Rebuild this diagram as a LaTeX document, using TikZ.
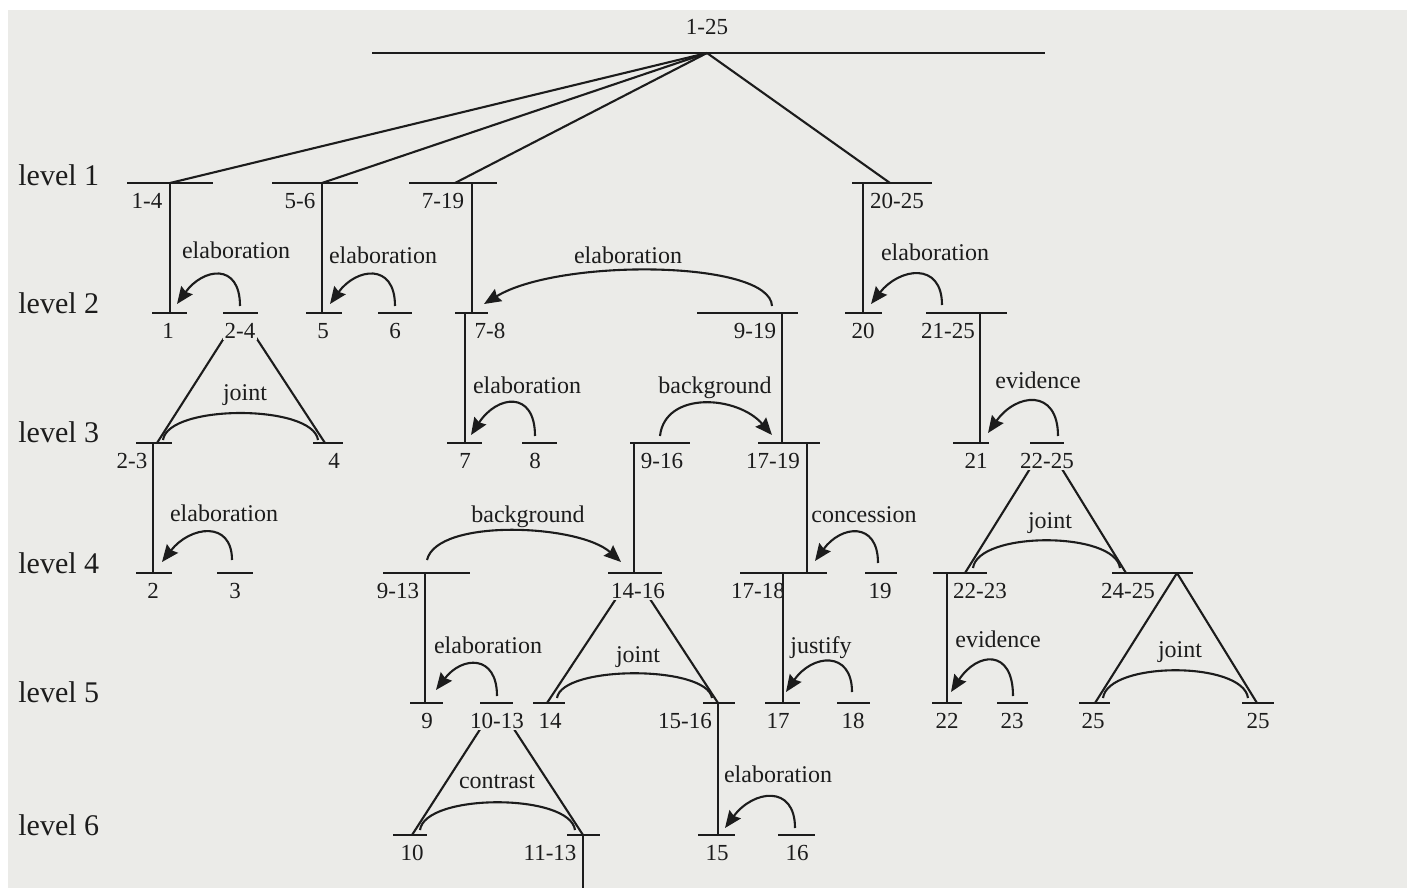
\documentclass[tikz,border=0pt]{standalone}
\usepackage{fontspec}
\setmainfont{Liberation Serif}
\usetikzlibrary{arrows.meta}
\definecolor{paper}{HTML}{EBEBE8}
\definecolor{ink}{HTML}{1C1C1C}

% one text span: name, left x, right x, level y, label x, label
\newcommand\seg[6]{%
  \draw[bar] (#2,#4) coordinate (#1-l) -- (#3,#4) coordinate (#1-r);
  \node[num] (#1) at (#5,#4) {#6};}

\begin{document}
\begin{tikzpicture}[x=0.5pt,y=-0.5pt,line join=round,
  bar/.style={draw=ink,line width=1.05pt},
  nucl/.style={draw=ink,line width=1.05pt},
  multi/.style={draw=ink,line width=1.05pt},
  rel/.style={draw=ink,line width=1.05pt,-{Stealth[length=8.5pt,width=7pt,inset=1pt]}},
  num/.style={font=\fontsize{11.5}{13}\selectfont,text=ink,anchor=base,yshift=-12.5pt,inner sep=1pt},
  apexnum/.style={num,fill=paper,text height=11pt},
  lbl/.style={font=\fontsize{12}{14}\selectfont,text=ink,anchor=base,inner sep=0pt},
  lvl/.style={font=\fontsize{15}{17}\selectfont,text=ink,anchor=base west,inner sep=0pt}]

\fill[white] (0,0) rectangle (1407,888);
\fill[paper] (8,10) rectangle (1407,888);
\useasboundingbox (0,0) rectangle (1407,888);

% levels
\coordinate (L2) at (0,313);
\coordinate (L3) at (0,443);
\coordinate (L4) at (0,573);
\coordinate (L5) at (0,703);
\coordinate (L6) at (0,835);
\coordinate (B) at (0,888);
\node[lvl] (lv1) at (18,185) {level 1};
\node[lvl] (lv2) at (18,313) {level 2};
\node[lvl] (lv3) at (18,442) {level 3};
\node[lvl] (lv4) at (18,573) {level 4};
\node[lvl] (lv5) at (18,702) {level 5};
\node[lvl] (lv6) at (18,835) {level 6};

% attachment points
\coordinate (a1-25) at (707,53);
\coordinate (v1-4) at (170,183);
\coordinate (v5-6) at (322,183);
\coordinate (t7-19) at (455,183);
\coordinate (v7-19) at (472,183);
\coordinate (t20-25) at (890,183);
\coordinate (v20-25) at (863,183);
\coordinate (a2-4) at (240,313);
\coordinate (v7-8) at (465,313);
\coordinate (v9-19) at (782,313);
\coordinate (v21-25) at (980,313);
\coordinate (c2-3) at (157,443);
\coordinate (c4) at (325,443);
\coordinate (v2-3) at (153,443);
\coordinate (v9-16) at (634,443);
\coordinate (v17-19) at (807,443);
\coordinate (a22-25) at (1046,443);
\coordinate (a14-16) at (633,573);
\coordinate (c22-23) at (965,573);
\coordinate (c24-25) at (1126,573);
\coordinate (a24-25) at (1177,573);
\coordinate (v9-13) at (425,573);
\coordinate (v17-18) at (783,573);
\coordinate (v22-23) at (947,573);
\coordinate (c14) at (547,703);
\coordinate (a10-13) at (497,703);
\coordinate (v15-16) at (718,703);
\coordinate (c25a) at (1095,703);
\coordinate (c25b) at (1257,703);
\coordinate (c10) at (412,835);
\coordinate (v11-13) at (583,835);

% nucleus lines
\draw[nucl] (a1-25) -- (v1-4);
\draw[nucl] (a1-25) -- (v5-6);
\draw[nucl] (a1-25) -- (t7-19);
\draw[nucl] (a1-25) -- (t20-25);
\draw[nucl] (a2-4) -- (c2-3);
\draw[nucl] (a2-4) -- (c4);
\draw[nucl] (a22-25) -- (c22-23);
\draw[nucl] (a22-25) -- (c24-25);
\draw[nucl] (a14-16) -- (c14);
\draw[nucl] (a14-16) -- (v15-16);
\draw[nucl] (a24-25) -- (c25a);
\draw[nucl] (a24-25) -- (c25b);
\draw[nucl] (a10-13) -- (c10);
\draw[nucl] (a10-13) -- (v11-13);
\draw[nucl] (v1-4) -- (v1-4 |- L2);
\draw[nucl] (v5-6) -- (v5-6 |- L2);
\draw[nucl] (v7-19) -- (v7-19 |- L2);
\draw[nucl] (v20-25) -- (v20-25 |- L2);
\draw[nucl] (v7-8) -- (v7-8 |- L3);
\draw[nucl] (v9-19) -- (v9-19 |- L3);
\draw[nucl] (v21-25) -- (v21-25 |- L3);
\draw[nucl] (v2-3) -- (v2-3 |- L4);
\draw[nucl] (v9-16) -- (v9-16 |- L4);
\draw[nucl] (v17-19) -- (v17-19 |- L4);
\draw[nucl] (v9-13) -- (v9-13 |- L5);
\draw[nucl] (v17-18) -- (v17-18 |- L5);
\draw[nucl] (v22-23) -- (v22-23 |- L5);
\draw[nucl] (v15-16) -- (v15-16 |- L6);
\draw[nucl] (v11-13) -- (v11-13 |- B);

% spans
\draw[bar] (372,53) -- (1045,53);
\node[num,yshift=21.5pt] (u1-25) at (707,53) {1-25};
\seg{u1-4}{127}{213}{183}{147}{1-4}
\seg{u5-6}{272}{358}{183}{300}{5-6}
\seg{u7-19}{409}{497}{183}{443}{7-19}
\seg{u20-25}{852}{932}{183}{897}{20-25}
\seg{u1}{152}{187}{313}{168}{1}
\node[apexnum] (u2-4) at (240,313) {2-4};
\draw[bar] (223,313) -- (258,313);
\seg{u5}{306}{342}{313}{323}{5}
\seg{u6}{378}{412}{313}{395}{6}
\seg{u7-8}{455}{488}{313}{490}{7-8}
\seg{u9-19}{697}{798}{313}{755}{9-19}
\seg{u20}{845}{882}{313}{863}{20}
\seg{u21-25}{926}{1007}{313}{948}{21-25}
\seg{u2-3}{136}{172}{443}{132}{2-3}
\seg{u4}{313}{343}{443}{334}{4}
\seg{u7}{447}{482}{443}{465}{7}
\seg{u8}{522}{557}{443}{535}{8}
\seg{u9-16}{630}{690}{443}{662}{9-16}
\seg{u17-19}{758}{820}{443}{773}{17-19}
\seg{u21}{953}{989}{443}{976}{21}
\node[apexnum] (u22-25) at (1047,443) {22-25};
\draw[bar] (1030,443) -- (1064,443);
\seg{u2}{136}{172}{573}{153}{2}
\seg{u3}{217}{253}{573}{235}{3}
\seg{u9-13}{383}{470}{573}{398}{9-13}
\node[apexnum] (u14-16) at (638,573) {14-16};
\draw[bar] (608,573) -- (662,573);
\seg{u17-18}{740}{827}{573}{758}{17-18}
\seg{u19}{865}{897}{573}{880}{19}
\seg{u22-23}{933}{987}{573}{980}{22-23}
\seg{u24-25}{1112}{1193}{573}{1128}{24-25}
\seg{u9}{410}{443}{703}{427}{9}
\node[apexnum] (u10-13) at (497,703) {10-13};
\draw[bar] (480,703) -- (513,703);
\seg{u14}{533}{565}{703}{550}{14}
\seg{u15-16}{703}{735}{703}{685}{15-16}
\seg{u17}{765}{800}{703}{778}{17}
\seg{u18}{837}{870}{703}{853}{18}
\seg{u22}{932}{962}{703}{947}{22}
\seg{u23}{997}{1028}{703}{1012}{23}
\seg{u25a}{1079}{1110}{703}{1093}{25}
\seg{u25b}{1242}{1274}{703}{1258}{25}
\seg{u10}{393}{427}{835}{412}{10}
\seg{u11-13}{567}{600}{835}{550}{11-13}
\seg{u15}{698}{735}{835}{717}{15}
\seg{u16}{778}{815}{835}{797}{16}

% relation ends
\coordinate (r1a) at (240,306);  \coordinate (r1b) at (177,304);
\coordinate (r2a) at (395,306);  \coordinate (r2b) at (330,304);
\coordinate (r3a) at (772,306);  \coordinate (r3b) at (484,304);
\coordinate (r4a) at (942,305);  \coordinate (r4b) at (871,304);
\coordinate (r5a) at (163,440);  \coordinate (r5b) at (318,440);
\coordinate (r6a) at (535,436);  \coordinate (r6b) at (471,435);
\coordinate (r7a) at (660,436);  \coordinate (r7b) at (772,435);
\coordinate (r8a) at (1058,436); \coordinate (r8b) at (988,433);
\coordinate (r9a) at (232,560);  \coordinate (r9b) at (162,562);
\coordinate (r10a) at (427,560); \coordinate (r10b) at (621,562);
\coordinate (r11a) at (878,563); \coordinate (r11b) at (815,561);
\coordinate (r12a) at (973,568); \coordinate (r12b) at (1120,568);
\coordinate (r13a) at (497,696); \coordinate (r13b) at (436,690);
\coordinate (r14a) at (557,698); \coordinate (r14b) at (712,698);
\coordinate (r15a) at (852,692); \coordinate (r15b) at (786,692);
\coordinate (r16a) at (1013,696); \coordinate (r16b) at (951,692);
\coordinate (r17a) at (1103,698); \coordinate (r17b) at (1248,698);
\coordinate (r18a) at (420,830); \coordinate (r18b) at (575,830);
\coordinate (r19a) at (795,828); \coordinate (r19b) at (725,828);

% relations
\draw[rel] (r1a) .. controls +(0,-44) and +(26,-36) .. (r1b);
\draw[rel] (r2a) .. controls +(0,-44) and +(26,-36) .. (r2b);
\draw[rel] (r3a) .. controls +(-2,-46) and +(75,-46) .. (r3b);
\draw[rel] (r4a) .. controls +(0,-44) and +(28,-36) .. (r4b);
\draw[multi] (r5a) .. controls +(5,-36) and +(-5,-36) .. (r5b);
\draw[rel] (r6a) .. controls +(0,-46) and +(26,-40) .. (r6b);
\draw[rel] (r7a) .. controls +(5,-45) and +(-35,-40) .. (r7b);
\draw[rel] (r8a) .. controls +(0,-48) and +(28,-40) .. (r8b);
\draw[rel] (r9a) .. controls +(0,-40) and +(28,-36) .. (r9b);
\draw[rel] (r10a) .. controls +(10,-42) and +(-42,-38) .. (r10b);
\draw[rel] (r11a) .. controls +(0,-42) and +(26,-36) .. (r11b);
\draw[multi] (r12a) .. controls +(5,-37) and +(-5,-37) .. (r12b);
\draw[rel] (r13a) .. controls +(0,-42) and +(26,-34) .. (r13b);
\draw[multi] (r14a) .. controls +(5,-33) and +(-5,-33) .. (r14b);
\draw[rel] (r15a) .. controls +(0,-42) and +(26,-38) .. (r15b);
\draw[rel] (r16a) .. controls +(0,-48) and +(26,-40) .. (r16b);
\draw[multi] (r17a) .. controls +(5,-37) and +(-5,-37) .. (r17b);
\draw[multi] (r18a) .. controls +(5,-37) and +(-5,-37) .. (r18b);
\draw[rel] (r19a) .. controls +(0,-44) and +(28,-38) .. (r19b);

\node[lbl] (rl1) at (236,258) {elaboration};
\node[lbl] (rl2) at (383,263) {elaboration};
\node[lbl] (rl3) at (628,263) {elaboration};
\node[lbl] (rl4) at (935,260) {elaboration};
\node[lbl] (rl5) at (245,400) {joint};
\node[lbl] (rl6) at (527,393) {elaboration};
\node[lbl] (rl7) at (715,393) {background};
\node[lbl] (rl8) at (1038,388) {evidence};
\node[lbl] (rl9) at (224,521) {elaboration};
\node[lbl] (rl10) at (528,522) {background};
\node[lbl] (rl11) at (864,522) {concession};
\node[lbl] (rl12) at (1050,528) {joint};
\node[lbl] (rl13) at (488,653) {elaboration};
\node[lbl] (rl14) at (638,662) {joint};
\node[lbl] (rl15) at (821,653) {justify};
\node[lbl] (rl16) at (998,647) {evidence};
\node[lbl] (rl17) at (1180,657) {joint};
\node[lbl] (rl18) at (497,788) {contrast};
\node[lbl] (rl19) at (778,782) {elaboration};
\end{tikzpicture}
\end{document}
